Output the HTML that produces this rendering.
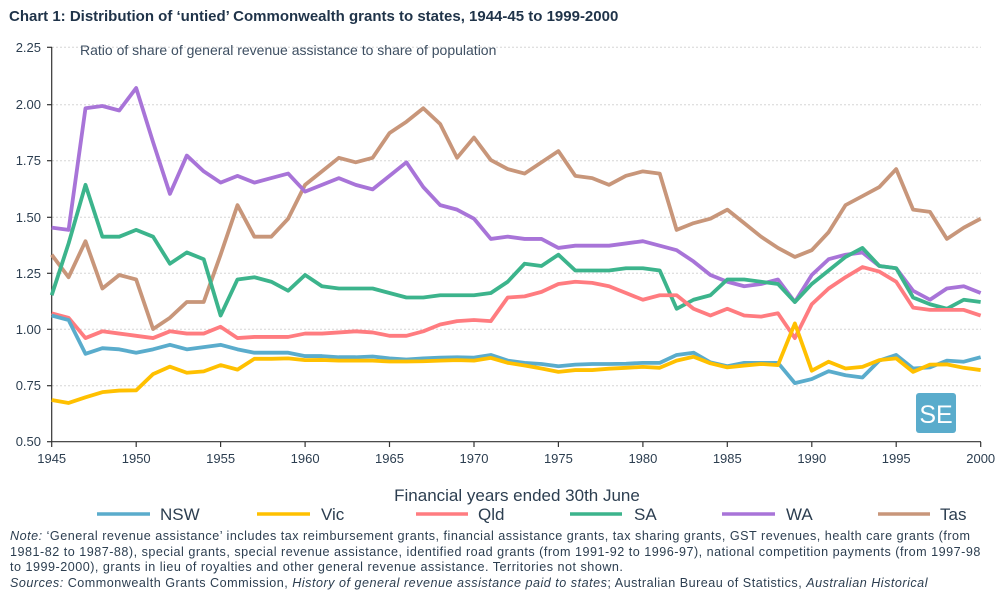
<!DOCTYPE html>
<html><head><meta charset="utf-8"><style>
body{margin:0;width:1000px;height:603px;background:#fff;font-family:"Liberation Sans",sans-serif;color:#2c3e50;overflow:hidden;position:relative}
.t{position:absolute;white-space:nowrap}
.note{position:absolute;left:10px;top:529px;width:985px;font-size:12.6px;letter-spacing:0.5px;line-height:15.7px;color:#2c3e50}
</style></head><body>
<div class="t" style="left:9px;top:8px;font-size:15px;font-weight:bold;color:#1f3349">Chart 1: Distribution of ‘untied’ Commonwealth grants to states, 1944-45 to 1999-2000</div>
<svg width="1000" height="603" style="position:absolute;left:0;top:0">
<g stroke="#d6d6d6" stroke-dasharray="2,2" stroke-width="1">
<line x1="52" x2="981" y1="47.3" y2="47.3"/><line x1="52" x2="981" y1="104.7" y2="104.7"/><line x1="52" x2="981" y1="160.7" y2="160.7"/><line x1="52" x2="981" y1="217.3" y2="217.3"/><line x1="52" x2="981" y1="273.3" y2="273.3"/><line x1="52" x2="981" y1="329.3" y2="329.3"/><line x1="52" x2="981" y1="385.7" y2="385.7"/>
</g>
<g stroke="#333" stroke-width="1.2">
<line x1="51.7" x2="51.7" y1="47" y2="442"/><line x1="51.7" x2="981" y1="441.7" y2="441.7"/>
<line x1="47" x2="52" y1="47.3" y2="47.3"/><line x1="47" x2="52" y1="104.7" y2="104.7"/><line x1="47" x2="52" y1="160.7" y2="160.7"/><line x1="47" x2="52" y1="217.3" y2="217.3"/><line x1="47" x2="52" y1="273.3" y2="273.3"/><line x1="47" x2="52" y1="329.3" y2="329.3"/><line x1="47" x2="52" y1="385.7" y2="385.7"/><line x1="47" x2="52" y1="441.7" y2="441.7"/>
<line x1="51.7" x2="51.7" y1="442" y2="447"/><line x1="136.2" x2="136.2" y1="442" y2="447"/><line x1="220.6" x2="220.6" y1="442" y2="447"/><line x1="305.1" x2="305.1" y1="442" y2="447"/><line x1="389.5" x2="389.5" y1="442" y2="447"/><line x1="474" x2="474" y1="442" y2="447"/><line x1="558.4" x2="558.4" y1="442" y2="447"/><line x1="642.9" x2="642.9" y1="442" y2="447"/><line x1="727.3" x2="727.3" y1="442" y2="447"/><line x1="811.8" x2="811.8" y1="442" y2="447"/><line x1="896.2" x2="896.2" y1="442" y2="447"/><line x1="980.7" x2="980.7" y1="442" y2="447"/>
</g>
<g font-size="13" fill="#2c3e50" text-anchor="end" font-family="Liberation Sans,sans-serif">
<text x="41" y="52">2.25</text><text x="41" y="109">2.00</text><text x="41" y="165">1.75</text><text x="41" y="222">1.50</text><text x="41" y="278">1.25</text><text x="41" y="334">1.00</text><text x="41" y="390">0.75</text><text x="41" y="446">0.50</text>
</g>
<g font-size="13" fill="#2c3e50" text-anchor="middle" font-family="Liberation Sans,sans-serif">
<text x="51.7" y="463">1945</text><text x="136.2" y="463">1950</text><text x="220.6" y="463">1955</text><text x="305.1" y="463">1960</text><text x="389.5" y="463">1965</text><text x="474" y="463">1970</text><text x="558.4" y="463">1975</text><text x="642.9" y="463">1980</text><text x="727.3" y="463">1985</text><text x="811.8" y="463">1990</text><text x="896.2" y="463">1995</text><text x="980.7" y="463">2000</text>
</g>
<text x="80" y="55" font-size="14" fill="#3e4f62" font-family="Liberation Sans,sans-serif">Ratio of share of general revenue assistance to share of population</text>
<rect x="916" y="393" width="40" height="40" rx="3" fill="#5aaccc"/>
<text x="936" y="423" font-size="25" fill="#fff" text-anchor="middle" font-family="Liberation Sans,sans-serif">SE</text>
<g transform="translate(51.7 554.35) scale(16.89 -225.3)" fill="none" stroke-width="3.8" stroke-linejoin="round">
<polyline vector-effect="non-scaling-stroke" stroke="#c8967a" points="0,1.33 1,1.23 2,1.39 3,1.18 4,1.24 5,1.22 6,1.00 7,1.05 8,1.12 9,1.12 10,1.33 11,1.55 12,1.41 13,1.41 14,1.49 15,1.64 16,1.70 17,1.76 18,1.74 19,1.76 20,1.87 21,1.92 22,1.98 23,1.91 24,1.76 25,1.85 26,1.75 27,1.71 28,1.69 29,1.74 30,1.79 31,1.68 32,1.67 33,1.64 34,1.68 35,1.70 36,1.69 37,1.44 38,1.47 39,1.49 40,1.53 41,1.47 42,1.41 43,1.36 44,1.32 45,1.35 46,1.43 47,1.55 48,1.59 49,1.63 50,1.71 51,1.53 52,1.52 53,1.40 54,1.45 55,1.49"/>
<polyline vector-effect="non-scaling-stroke" stroke="#a874d8" points="0,1.45 1,1.44 2,1.98 3,1.99 4,1.97 5,2.07 6,1.83 7,1.60 8,1.77 9,1.70 10,1.65 11,1.68 12,1.65 13,1.67 14,1.69 15,1.61 16,1.64 17,1.67 18,1.64 19,1.62 20,1.68 21,1.74 22,1.63 23,1.55 24,1.53 25,1.49 26,1.40 27,1.41 28,1.40 29,1.40 30,1.36 31,1.37 32,1.37 33,1.37 34,1.38 35,1.39 36,1.37 37,1.35 38,1.30 39,1.24 40,1.21 41,1.19 42,1.20 43,1.22 44,1.12 45,1.24 46,1.31 47,1.33 48,1.34 49,1.28 50,1.27 51,1.17 52,1.13 53,1.18 54,1.19 55,1.16"/>
<polyline vector-effect="non-scaling-stroke" stroke="#3cb48c" points="0,1.15 1,1.38 2,1.64 3,1.41 4,1.41 5,1.44 6,1.41 7,1.29 8,1.34 9,1.31 10,1.06 11,1.22 12,1.23 13,1.21 14,1.17 15,1.24 16,1.19 17,1.18 18,1.18 19,1.18 20,1.16 21,1.14 22,1.14 23,1.15 24,1.15 25,1.15 26,1.16 27,1.21 28,1.29 29,1.28 30,1.33 31,1.26 32,1.26 33,1.26 34,1.27 35,1.27 36,1.26 37,1.09 38,1.13 39,1.15 40,1.22 41,1.22 42,1.21 43,1.20 44,1.12 45,1.20 46,1.26 47,1.32 48,1.36 49,1.28 50,1.27 51,1.14 52,1.11 53,1.09 54,1.13 55,1.12"/>
<polyline vector-effect="non-scaling-stroke" stroke="#ff7c80" points="0,1.07 1,1.05 2,0.96 3,0.99 4,0.98 5,0.97 6,0.96 7,0.99 8,0.98 9,0.98 10,1.01 11,0.96 12,0.965 13,0.965 14,0.965 15,0.98 16,0.98 17,0.985 18,0.99 19,0.985 20,0.97 21,0.97 22,0.99 23,1.02 24,1.035 25,1.04 26,1.035 27,1.14 28,1.145 29,1.165 30,1.20 31,1.21 32,1.205 33,1.19 34,1.16 35,1.13 36,1.15 37,1.15 38,1.09 39,1.06 40,1.09 41,1.06 42,1.055 43,1.07 44,0.96 45,1.11 46,1.18 47,1.23 48,1.275 49,1.255 50,1.21 51,1.095 52,1.085 53,1.085 54,1.085 55,1.06"/>
<polyline vector-effect="non-scaling-stroke" stroke="#5aaccc" points="0,1.06 1,1.04 2,0.89 3,0.915 4,0.91 5,0.895 6,0.91 7,0.93 8,0.91 9,0.92 10,0.93 11,0.91 12,0.895 13,0.895 14,0.895 15,0.88 16,0.88 17,0.875 18,0.875 19,0.878 20,0.87 21,0.865 22,0.87 23,0.873 24,0.875 25,0.873 26,0.885 27,0.86 28,0.85 29,0.845 30,0.835 31,0.842 32,0.845 33,0.845 34,0.846 35,0.85 36,0.85 37,0.885 38,0.895 39,0.852 40,0.835 41,0.85 42,0.85 43,0.85 44,0.76 45,0.778 46,0.813 47,0.795 48,0.785 49,0.86 50,0.885 51,0.825 52,0.83 53,0.86 54,0.855 55,0.875"/>
<polyline vector-effect="non-scaling-stroke" stroke="#ffc000" points="0,0.685 1,0.672 2,0.697 3,0.72 4,0.727 5,0.728 6,0.8 7,0.833 8,0.806 9,0.812 10,0.84 11,0.82 12,0.868 13,0.868 14,0.87 15,0.862 16,0.863 17,0.86 18,0.86 19,0.86 20,0.856 21,0.856 22,0.857 23,0.86 24,0.862 25,0.86 26,0.872 27,0.85 28,0.838 29,0.825 30,0.81 31,0.818 32,0.818 33,0.824 34,0.828 35,0.832 36,0.828 37,0.86 38,0.877 39,0.848 40,0.83 41,0.838 42,0.845 43,0.84 44,1.025 45,0.815 46,0.855 47,0.825 48,0.832 49,0.862 50,0.87 51,0.81 52,0.842 53,0.843 54,0.828 55,0.818"/>
</g>
<text x="517" y="501" font-size="17" fill="#2c3e50" text-anchor="middle" font-family="Liberation Sans,sans-serif">Financial years ended 30th June</text>
<g stroke-width="3.5">
<line x1="97" x2="150" y1="514" y2="514" stroke="#5aaccc"/>
<line x1="257" x2="310" y1="514" y2="514" stroke="#ffc000"/>
<line x1="416" x2="468" y1="514" y2="514" stroke="#ff7c80"/>
<line x1="570" x2="622" y1="514" y2="514" stroke="#3cb48c"/>
<line x1="722" x2="775" y1="514" y2="514" stroke="#a874d8"/>
<line x1="878" x2="930" y1="514" y2="514" stroke="#c8967a"/>
</g>
<g font-size="17" fill="#2c3e50" font-family="Liberation Sans,sans-serif">
<text x="160" y="520">NSW</text><text x="321" y="520">Vic</text><text x="478" y="520">Qld</text><text x="634" y="520">SA</text><text x="786" y="520">WA</text><text x="940" y="520">Tas</text>
</g>
</svg>
<div class="note"><i>Note:</i> ‘General revenue assistance’ includes tax reimbursement grants, financial assistance grants, tax sharing grants, GST revenues, health care grants (from 1981-82 to 1987-88), special grants, special revenue assistance, identified road grants (from 1991-92 to 1996-97), national competition payments (from 1997-98 to 1999-2000), grants in lieu of royalties and other general revenue assistance. Territories not shown.<br><i>Sources:</i> Commonwealth Grants Commission, <i>History of general revenue assistance paid to states</i>; Australian Bureau of Statistics, <i>Australian Historical</i></div>
</body></html>
